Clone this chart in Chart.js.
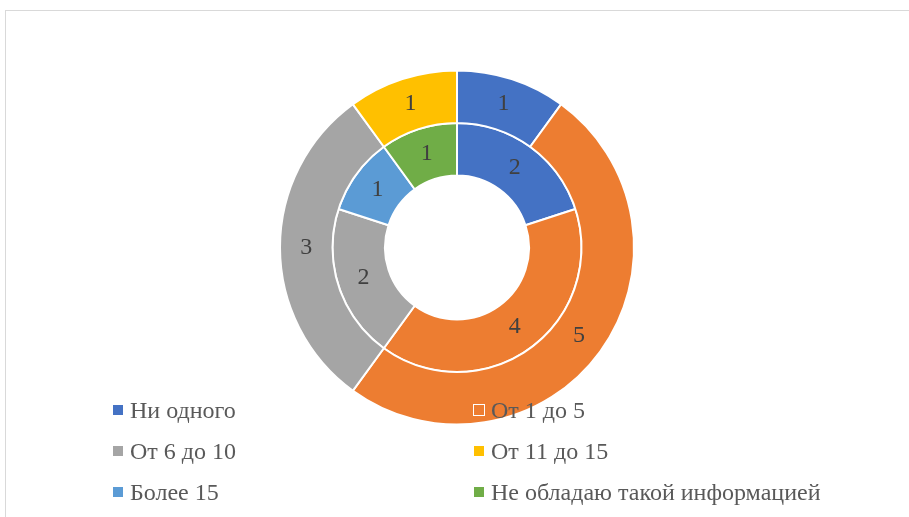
<!DOCTYPE html>
<html>
<head>
<meta charset="utf-8">
<script src="https://cdn.jsdelivr.net/npm/chart.js@4.4.0/dist/chart.umd.min.js"></script>
<style>
    body { margin: 0; background: #fff; }
    #wrap { position: relative; width: 909px; height: 517px; overflow: hidden; }
    #frame { position: absolute; left: 5px; top: 10px; width: 1000px; height: 600px; border: 1px solid #d9d9d9; }
    canvas { position: absolute; left: 0; top: 0; }
    #legend { position: absolute; left: 0; top: 0; font-family: "Liberation Serif", "Times New Roman", serif; font-size: 24px; color: #595959; }
    .item { position: absolute; white-space: nowrap; line-height: 26px; }
    .box { display: inline-block; width: 10px; height: 10px; border: 1px solid #fff; margin-right: 6px; vertical-align: 2px; }
</style>
</head>
<body>
<div id="wrap">
    <div id="frame"></div>
    <canvas id="chart" width="909" height="517"></canvas>
    <div id="legend"></div>
</div>
<script>
// Data
const categories = ['Ни одного', 'От 1 до 5', 'От 6 до 10', 'От 11 до 15', 'Более 15', 'Не обладаю такой информацией'];
const outerValues = [1, 5, 3, 1, 0, 0];
const innerValues = [2, 4, 2, 0, 1, 1];
const colors = ['#4472C4', '#ED7D31', '#A5A5A5', '#FFC000', '#5B9BD5', '#70AD47'];

// Draw the value labels on each segment
const valueLabels = {
    id: 'valueLabels',
    afterDatasetsDraw(chart) {
        var ctx = chart.ctx;
        ctx.save();
        ctx.font = '24px "Liberation Serif", "Times New Roman", serif';
        ctx.fillStyle = '#404040';
        ctx.textAlign = 'center';
        ctx.textBaseline = 'middle';
        chart.data.datasets.forEach((ds, i) => {
            var meta = chart.getDatasetMeta(i);
            meta.data.forEach((arc, j) => {
                if (!ds.data[j]) return;
                var p = arc.tooltipPosition();
                ctx.fillText(ds.data[j], p.x, p.y);
            });
        });
        ctx.restore();
    }
};

var chart = new Chart(document.getElementById('chart'), {
    type: 'doughnut',
    data: {
        labels: categories,
        datasets: [
            { data: outerValues, backgroundColor: colors, borderColor: '#fff', borderWidth: 2 },
            { data: innerValues, backgroundColor: colors, borderColor: '#fff', borderWidth: 2 }
        ]
    },
    options: {
        responsive: false,
        animation: false,
        cutout: 72,
        layout: { padding: { left: 279, right: 274, top: 69, bottom: 91 } },
        plugins: {
            legend: { display: false },
            tooltip: { enabled: false }
        }
    },
    plugins: [valueLabels]
});

// Legend, two columns
var legend = document.getElementById('legend');
var colX = [112, 473];
var rowY = [397, 438, 479];
categories.forEach((name, i) => {
    var item = document.createElement('div');
    item.className = 'item';
    item.style.left = colX[i % 2] + 'px';
    item.style.top = rowY[Math.floor(i / 2)] + 'px';
    item.innerHTML = '<span class="box" style="background:' + colors[i] + '"></span>' + name;
    legend.appendChild(item);
});
</script>
</body>
</html>
